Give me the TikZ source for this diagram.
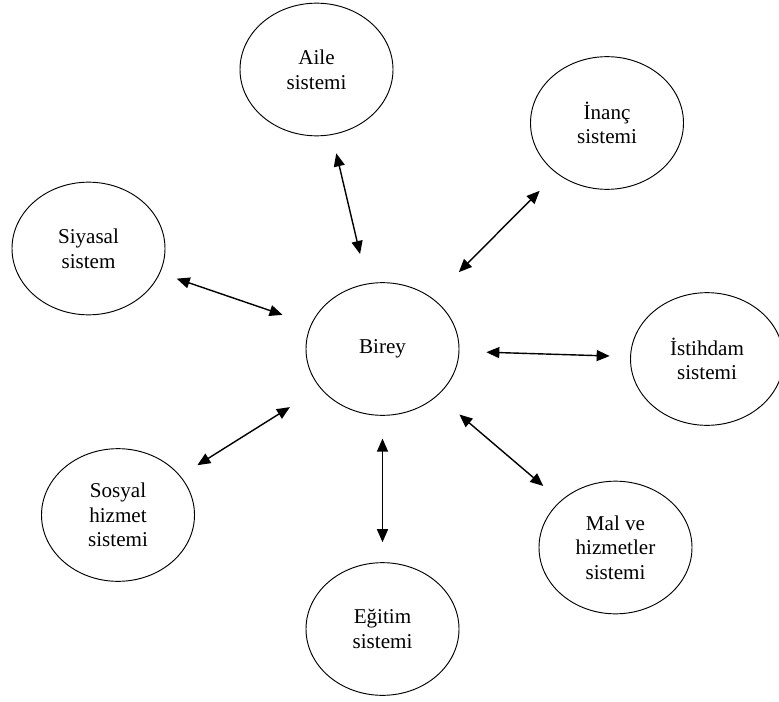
\documentclass[tikz,border=0pt]{standalone}
\usepackage{fontspec}
\setmainfont{Liberation Serif}
\usetikzlibrary{calc,arrows.meta,shapes.geometric}

\begin{document}
\begin{tikzpicture}[x=0.3mm, y=-0.3mm,
        sistem/.style={draw, ellipse, line width=0.8pt, minimum width=45.9mm, minimum height=39.8mm,
            inner sep=0pt, align=center, font=\fontsize{18}{21}\selectfont},
        link/.style={{Triangle[length=3.9mm,width=3.3mm]}-{Triangle[length=3.9mm,width=3.3mm]}, line width=1.2pt}]
        \useasboundingbox (0, 0) rectangle (779, 702);
        \node[sistem] (birey) at (382.5, 349) {Birey};
        \node[sistem] (aile) at (316.5, 69.5) {Aile\\sistemi};
        \node[sistem] (inanc) at (607, 123) {İnanç\\sistemi};
        \node[sistem] (siyasal) at (88.5, 248.5) {Siyasal\\sistem};
        \node[sistem] (istihdam) at (707, 359) {İstihdam\\sistemi};
        \node[sistem] (sosyal) at (118, 515) {Sosyal\\hizmet\\sistemi};
        \node[sistem] (mal) at (615.5, 547.5) {Mal ve\\hizmetler\\sistemi};
        \node[sistem] (egitim) at (382.5, 629) {Eğitim\\sistemi};
        \draw[link] ($(birey)!.34!(aile)$) -- ($(birey)!.70!(aile)$);
        \draw[link] ($(birey)!.34!(inanc)$) -- ($(birey)!.70!(inanc)$);
        \draw[link] ($(birey)!.34!(siyasal)$) -- ($(birey)!.70!(siyasal)$);
        \draw[link] ($(birey)!.32!(istihdam)$) -- ($(birey)!.70!(istihdam)$);
        \draw[link] ($(birey)!.35!(sosyal)$) -- ($(birey)!.70!(sosyal)$);
        \draw[link] ($(birey)!.32!(egitim)$) -- ($(birey)!.69!(egitim)$);
        \draw[link] ($(birey)!.33!(mal)$) -- ($(birey)!.69!(mal)$);
\end{tikzpicture}
\end{document}
